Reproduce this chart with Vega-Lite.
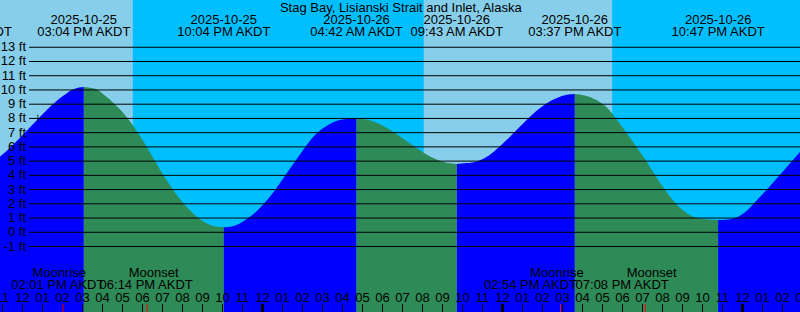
{
  "$schema": "https://vega.github.io/schema/vega-lite/v6.json",
  "width": 800,
  "height": 312,
  "padding": 0,
  "autosize": {"type": "none"},
  "background": "#87CEEB",
  "config": {"view": {"stroke": null}, "font": "Liberation Sans", "text": {"font": "Liberation Sans", "fontSize": 13, "color": "black"}},
  "datasets": {
    "sky": [
      {"time": "2025-10-25T06:00:00Z", "end": "2025-10-25T17:31:00Z", "period": "day"},
      {"time": "2025-10-25T17:31:00Z", "end": "2025-10-26T08:04:00Z", "period": "night"},
      {"time": "2025-10-26T08:04:00Z", "end": "2025-10-26T17:29:00Z", "period": "day"},
      {"time": "2025-10-26T17:29:00Z", "end": "2025-10-27T08:00:00Z", "period": "night"}
    ],
    "tide": [
      {"time": "2025-10-25T10:50:00Z", "ft": 5.28, "seg": "A", "dir": "rising"},
      {"time": "2025-10-25T11:25:00Z", "ft": 6.0, "seg": "A", "dir": "rising"},
      {"time": "2025-10-25T12:07:00Z", "ft": 7.0, "seg": "A", "dir": "rising"},
      {"time": "2025-10-25T12:48:00Z", "ft": 8.0, "seg": "A", "dir": "rising"},
      {"time": "2025-10-25T13:31:00Z", "ft": 9.0, "seg": "A", "dir": "rising"},
      {"time": "2025-10-25T14:00:00Z", "ft": 9.55, "seg": "A", "dir": "rising"},
      {"time": "2025-10-25T14:28:00Z", "ft": 10.0, "seg": "A", "dir": "rising"},
      {"time": "2025-10-25T14:46:00Z", "ft": 10.15, "seg": "A", "dir": "rising"},
      {"time": "2025-10-25T15:04:00Z", "ft": 10.2, "seg": "A", "dir": "rising"},
      {"time": "2025-10-25T15:04:00Z", "ft": 10.2, "seg": "B", "dir": "falling"},
      {"time": "2025-10-25T15:22:00Z", "ft": 10.15, "seg": "B", "dir": "falling"},
      {"time": "2025-10-25T15:46:00Z", "ft": 10.0, "seg": "B", "dir": "falling"},
      {"time": "2025-10-25T16:10:00Z", "ft": 9.55, "seg": "B", "dir": "falling"},
      {"time": "2025-10-25T16:37:00Z", "ft": 9.0, "seg": "B", "dir": "falling"},
      {"time": "2025-10-25T17:16:00Z", "ft": 8.0, "seg": "B", "dir": "falling"},
      {"time": "2025-10-25T17:46:00Z", "ft": 7.0, "seg": "B", "dir": "falling"},
      {"time": "2025-10-25T18:13:00Z", "ft": 6.0, "seg": "B", "dir": "falling"},
      {"time": "2025-10-25T18:37:00Z", "ft": 5.0, "seg": "B", "dir": "falling"},
      {"time": "2025-10-25T19:03:00Z", "ft": 4.0, "seg": "B", "dir": "falling"},
      {"time": "2025-10-25T19:31:00Z", "ft": 3.0, "seg": "B", "dir": "falling"},
      {"time": "2025-10-25T20:04:00Z", "ft": 2.0, "seg": "B", "dir": "falling"},
      {"time": "2025-10-25T20:48:00Z", "ft": 1.0, "seg": "B", "dir": "falling"},
      {"time": "2025-10-25T21:28:00Z", "ft": 0.47, "seg": "B", "dir": "falling"},
      {"time": "2025-10-25T22:04:00Z", "ft": 0.35, "seg": "B", "dir": "falling"},
      {"time": "2025-10-25T22:04:00Z", "ft": 0.35, "seg": "C", "dir": "rising"},
      {"time": "2025-10-25T22:34:00Z", "ft": 0.45, "seg": "C", "dir": "rising"},
      {"time": "2025-10-25T23:04:00Z", "ft": 0.8, "seg": "C", "dir": "rising"},
      {"time": "2025-10-25T23:34:00Z", "ft": 1.3, "seg": "C", "dir": "rising"},
      {"time": "2025-10-26T00:04:00Z", "ft": 2.0, "seg": "C", "dir": "rising"},
      {"time": "2025-10-26T00:34:00Z", "ft": 2.85, "seg": "C", "dir": "rising"},
      {"time": "2025-10-26T01:04:00Z", "ft": 3.85, "seg": "C", "dir": "rising"},
      {"time": "2025-10-26T01:34:00Z", "ft": 4.85, "seg": "C", "dir": "rising"},
      {"time": "2025-10-26T02:04:00Z", "ft": 5.85, "seg": "C", "dir": "rising"},
      {"time": "2025-10-26T02:34:00Z", "ft": 6.75, "seg": "C", "dir": "rising"},
      {"time": "2025-10-26T03:04:00Z", "ft": 7.35, "seg": "C", "dir": "rising"},
      {"time": "2025-10-26T03:34:00Z", "ft": 7.75, "seg": "C", "dir": "rising"},
      {"time": "2025-10-26T04:04:00Z", "ft": 7.95, "seg": "C", "dir": "rising"},
      {"time": "2025-10-26T04:42:00Z", "ft": 8.0, "seg": "C", "dir": "rising"},
      {"time": "2025-10-26T04:42:00Z", "ft": 8.0, "seg": "D", "dir": "falling"},
      {"time": "2025-10-26T05:12:00Z", "ft": 7.92, "seg": "D", "dir": "falling"},
      {"time": "2025-10-26T05:42:00Z", "ft": 7.7, "seg": "D", "dir": "falling"},
      {"time": "2025-10-26T06:12:00Z", "ft": 7.34, "seg": "D", "dir": "falling"},
      {"time": "2025-10-26T06:42:00Z", "ft": 6.9, "seg": "D", "dir": "falling"},
      {"time": "2025-10-26T07:12:00Z", "ft": 6.41, "seg": "D", "dir": "falling"},
      {"time": "2025-10-26T07:42:00Z", "ft": 5.92, "seg": "D", "dir": "falling"},
      {"time": "2025-10-26T08:12:00Z", "ft": 5.47, "seg": "D", "dir": "falling"},
      {"time": "2025-10-26T08:42:00Z", "ft": 5.11, "seg": "D", "dir": "falling"},
      {"time": "2025-10-26T09:12:00Z", "ft": 4.88, "seg": "D", "dir": "falling"},
      {"time": "2025-10-26T09:43:00Z", "ft": 4.8, "seg": "D", "dir": "falling"},
      {"time": "2025-10-26T09:43:00Z", "ft": 4.8, "seg": "E", "dir": "rising"},
      {"time": "2025-10-26T10:13:00Z", "ft": 4.86, "seg": "E", "dir": "rising"},
      {"time": "2025-10-26T10:43:00Z", "ft": 4.98, "seg": "E", "dir": "rising"},
      {"time": "2025-10-26T11:13:00Z", "ft": 5.3, "seg": "E", "dir": "rising"},
      {"time": "2025-10-26T11:43:00Z", "ft": 5.85, "seg": "E", "dir": "rising"},
      {"time": "2025-10-26T12:13:00Z", "ft": 6.5, "seg": "E", "dir": "rising"},
      {"time": "2025-10-26T12:43:00Z", "ft": 7.2, "seg": "E", "dir": "rising"},
      {"time": "2025-10-26T13:13:00Z", "ft": 7.9, "seg": "E", "dir": "rising"},
      {"time": "2025-10-26T13:43:00Z", "ft": 8.55, "seg": "E", "dir": "rising"},
      {"time": "2025-10-26T14:13:00Z", "ft": 9.07, "seg": "E", "dir": "rising"},
      {"time": "2025-10-26T14:43:00Z", "ft": 9.44, "seg": "E", "dir": "rising"},
      {"time": "2025-10-26T15:13:00Z", "ft": 9.66, "seg": "E", "dir": "rising"},
      {"time": "2025-10-26T15:37:00Z", "ft": 9.72, "seg": "E", "dir": "rising"},
      {"time": "2025-10-26T15:37:00Z", "ft": 9.72, "seg": "F", "dir": "falling"},
      {"time": "2025-10-26T16:07:00Z", "ft": 9.61, "seg": "F", "dir": "falling"},
      {"time": "2025-10-26T16:37:00Z", "ft": 9.35, "seg": "F", "dir": "falling"},
      {"time": "2025-10-26T17:07:00Z", "ft": 8.9, "seg": "F", "dir": "falling"},
      {"time": "2025-10-26T17:37:00Z", "ft": 8.1, "seg": "F", "dir": "falling"},
      {"time": "2025-10-26T18:07:00Z", "ft": 7.15, "seg": "F", "dir": "falling"},
      {"time": "2025-10-26T18:37:00Z", "ft": 6.15, "seg": "F", "dir": "falling"},
      {"time": "2025-10-26T19:07:00Z", "ft": 5.15, "seg": "F", "dir": "falling"},
      {"time": "2025-10-26T19:37:00Z", "ft": 4.05, "seg": "F", "dir": "falling"},
      {"time": "2025-10-26T20:07:00Z", "ft": 3.0, "seg": "F", "dir": "falling"},
      {"time": "2025-10-26T20:37:00Z", "ft": 2.1, "seg": "F", "dir": "falling"},
      {"time": "2025-10-26T21:07:00Z", "ft": 1.45, "seg": "F", "dir": "falling"},
      {"time": "2025-10-26T21:37:00Z", "ft": 1.05, "seg": "F", "dir": "falling"},
      {"time": "2025-10-26T22:07:00Z", "ft": 0.92, "seg": "F", "dir": "falling"},
      {"time": "2025-10-26T22:47:00Z", "ft": 0.86, "seg": "F", "dir": "falling"},
      {"time": "2025-10-26T22:47:00Z", "ft": 0.86, "seg": "G", "dir": "rising"},
      {"time": "2025-10-26T23:17:00Z", "ft": 0.9, "seg": "G", "dir": "rising"},
      {"time": "2025-10-26T23:47:00Z", "ft": 1.1, "seg": "G", "dir": "rising"},
      {"time": "2025-10-27T00:17:00Z", "ft": 1.6, "seg": "G", "dir": "rising"},
      {"time": "2025-10-27T00:47:00Z", "ft": 2.35, "seg": "G", "dir": "rising"},
      {"time": "2025-10-27T01:17:00Z", "ft": 3.1, "seg": "G", "dir": "rising"},
      {"time": "2025-10-27T01:47:00Z", "ft": 3.9, "seg": "G", "dir": "rising"},
      {"time": "2025-10-27T02:17:00Z", "ft": 4.7, "seg": "G", "dir": "rising"},
      {"time": "2025-10-27T02:47:00Z", "ft": 5.5, "seg": "G", "dir": "rising"},
      {"time": "2025-10-27T03:10:00Z", "ft": 6.1, "seg": "G", "dir": "rising"}
    ],
    "levels": [
      {"ft": -1, "label": "-1 ft"}, {"ft": 0, "label": "0 ft"}, {"ft": 1, "label": "1 ft"},
      {"ft": 2, "label": "2 ft"}, {"ft": 3, "label": "3 ft"}, {"ft": 4, "label": "4 ft"},
      {"ft": 5, "label": "5 ft"}, {"ft": 6, "label": "6 ft"}, {"ft": 7, "label": "7 ft"},
      {"ft": 8, "label": "8 ft"}, {"ft": 9, "label": "9 ft"}, {"ft": 10, "label": "10 ft"},
      {"ft": 11, "label": "11 ft"}, {"ft": 12, "label": "12 ft"}, {"ft": 13, "label": "13 ft"}
    ],
    "hours": [
      {"time": "2025-10-25T11:00:00Z", "h": "11"}, {"time": "2025-10-25T12:00:00Z", "h": "12"},
      {"time": "2025-10-25T13:00:00Z", "h": "01"}, {"time": "2025-10-25T14:00:00Z", "h": "02"},
      {"time": "2025-10-25T15:00:00Z", "h": "03"}, {"time": "2025-10-25T16:00:00Z", "h": "04"},
      {"time": "2025-10-25T17:00:00Z", "h": "05"}, {"time": "2025-10-25T18:00:00Z", "h": "06"},
      {"time": "2025-10-25T19:00:00Z", "h": "07"}, {"time": "2025-10-25T20:00:00Z", "h": "08"},
      {"time": "2025-10-25T21:00:00Z", "h": "09"}, {"time": "2025-10-25T22:00:00Z", "h": "10"},
      {"time": "2025-10-25T23:00:00Z", "h": "11"}, {"time": "2025-10-26T00:00:00Z", "h": "12"},
      {"time": "2025-10-26T01:00:00Z", "h": "01"}, {"time": "2025-10-26T02:00:00Z", "h": "02"},
      {"time": "2025-10-26T03:00:00Z", "h": "03"}, {"time": "2025-10-26T04:00:00Z", "h": "04"},
      {"time": "2025-10-26T05:00:00Z", "h": "05"}, {"time": "2025-10-26T06:00:00Z", "h": "06"},
      {"time": "2025-10-26T07:00:00Z", "h": "07"}, {"time": "2025-10-26T08:00:00Z", "h": "08"},
      {"time": "2025-10-26T09:00:00Z", "h": "09"}, {"time": "2025-10-26T10:00:00Z", "h": "10"},
      {"time": "2025-10-26T11:00:00Z", "h": "11"}, {"time": "2025-10-26T12:00:00Z", "h": "12"},
      {"time": "2025-10-26T13:00:00Z", "h": "01"}, {"time": "2025-10-26T14:00:00Z", "h": "02"},
      {"time": "2025-10-26T15:00:00Z", "h": "03"}, {"time": "2025-10-26T16:00:00Z", "h": "04"},
      {"time": "2025-10-26T17:00:00Z", "h": "05"}, {"time": "2025-10-26T18:00:00Z", "h": "06"},
      {"time": "2025-10-26T19:00:00Z", "h": "07"}, {"time": "2025-10-26T20:00:00Z", "h": "08"},
      {"time": "2025-10-26T21:00:00Z", "h": "09"}, {"time": "2025-10-26T22:00:00Z", "h": "10"},
      {"time": "2025-10-26T23:00:00Z", "h": "11"}, {"time": "2025-10-27T00:00:00Z", "h": "12"},
      {"time": "2025-10-27T01:00:00Z", "h": "01"}, {"time": "2025-10-27T02:00:00Z", "h": "02"},
      {"time": "2025-10-27T03:00:00Z", "h": "03"}
    ],
    "now": [{"time": "2025-10-25T12:46:00Z", "ft": 8.0}],
    "extremes": [
      {"time": "2025-10-25T09:11:00Z", "date": "2025-10-25", "label": "09:11 AM AKDT"},
      {"time": "2025-10-25T15:04:00Z", "date": "2025-10-25", "label": "03:04 PM AKDT"},
      {"time": "2025-10-25T22:04:00Z", "date": "2025-10-25", "label": "10:04 PM AKDT"},
      {"time": "2025-10-26T04:42:00Z", "date": "2025-10-26", "label": "04:42 AM AKDT"},
      {"time": "2025-10-26T09:43:00Z", "date": "2025-10-26", "label": "09:43 AM AKDT"},
      {"time": "2025-10-26T15:37:00Z", "date": "2025-10-26", "label": "03:37 PM AKDT"},
      {"time": "2025-10-26T22:47:00Z", "date": "2025-10-26", "label": "10:47 PM AKDT"}
    ],
    "moon": [
      {"id": 1, "event": "Moonrise", "time": "2025-10-25T14:01:00Z", "label": "02:01 PM AKDT"},
      {"id": 2, "event": "Moonset", "time": "2025-10-25T18:14:00Z", "label": "06:14 PM AKDT"},
      {"id": 3, "event": "Moonrise", "time": "2025-10-26T14:54:00Z", "label": "02:54 PM AKDT"},
      {"id": 4, "event": "Moonset", "time": "2025-10-26T19:08:00Z", "label": "07:08 PM AKDT"}
    ],
    "title": [{"time": "2025-10-26T06:54:54Z", "text": "Stag Bay, Lisianski Strait and Inlet, Alaska"}]
  },
  "resolve": {"scale": {"color": "independent"}},
  "layer": [
    {
      "data": {"name": "sky"},
      "mark": {"type": "rect", "clip": true},
      "encoding": {
        "x": {"field": "time", "type": "temporal", "scale": {"type": "utc", "nice": false, "domain": [1761389550000, 1761533550000]}, "axis": null},
        "x2": {"field": "end"},
        "color": {"field": "period", "type": "nominal", "scale": {"domain": ["day", "night"], "range": ["#87CEEB", "#00BFFF"]}, "legend": null}
      }
    },
    {
      "data": {"name": "tide"},
      "mark": {"type": "area", "interpolate": "monotone", "clip": true},
      "encoding": {
        "x": {"field": "time", "type": "temporal", "scale": {"type": "utc", "nice": false, "domain": [1761389550000, 1761533550000]}, "axis": null},
        "y": {"field": "ft", "type": "quantitative", "scale": {"domain": [-5.6, 16.32], "nice": false, "zero": false}, "axis": null},
        "y2": {"datum": -5.6},
        "color": {"field": "dir", "type": "nominal", "scale": {"domain": ["rising", "falling"], "range": ["#0000FF", "#2E8B57"]}, "legend": null},
        "detail": {"field": "seg"}
      }
    },
    {
      "data": {"name": "levels"},
      "mark": {"type": "rule", "color": "black", "strokeWidth": 1, "clip": true},
      "encoding": {
        "y": {"field": "ft", "type": "quantitative", "scale": {"domain": [-5.6, 16.32], "nice": false, "zero": false}, "axis": null},
        "x": {"datum": 1761394770000, "type": "temporal", "scale": {"type": "utc", "nice": false, "domain": [1761389550000, 1761533550000]}, "axis": null},
        "x2": {"datum": 1761534000000}
      }
    },
    {
      "data": {"name": "levels"},
      "mark": {"type": "text", "align": "right", "baseline": "middle"},
      "encoding": {
        "y": {"field": "ft", "type": "quantitative", "scale": {"domain": [-5.6, 16.32], "nice": false, "zero": false}, "axis": null},
        "x": {"datum": 1761394230000, "type": "temporal", "scale": {"type": "utc", "nice": false, "domain": [1761389550000, 1761533550000]}, "axis": null},
        "text": {"field": "label"}
      }
    },
    {
      "data": {"name": "now"},
      "mark": {"type": "tick", "orient": "vertical", "size": 8, "thickness": 1, "color": "black"},
      "encoding": {
        "x": {"field": "time", "type": "temporal", "scale": {"type": "utc", "nice": false, "domain": [1761389550000, 1761533550000]}, "axis": null},
        "y": {"field": "ft", "type": "quantitative", "scale": {"domain": [-5.6, 16.32], "nice": false, "zero": false}, "axis": null}
      }
    },
    {
      "data": {"name": "hours"},
      "mark": {"type": "rule", "color": "black"},
      "encoding": {
        "x": {"field": "time", "type": "temporal", "scale": {"type": "utc", "nice": false, "domain": [1761389550000, 1761533550000]}, "axis": null},
        "y": {"datum": -5.04, "scale": {"domain": [-5.6, 16.32], "nice": false, "zero": false}, "axis": null},
        "y2": {"datum": -5.6},
        "strokeWidth": {"condition": {"test": "utchours(datum.time) == 0 || (utchours(datum.time) == 12 && utcdate(datum.time) == 26)", "value": 3}, "value": 1}
      }
    },
    {
      "data": {"name": "hours"},
      "mark": {"type": "text", "align": "center", "baseline": "alphabetic"},
      "encoding": {
        "x": {"field": "time", "type": "temporal", "scale": {"type": "utc", "nice": false, "domain": [1761389550000, 1761533550000]}, "axis": null},
        "y": {"datum": -4.897, "scale": {"domain": [-5.6, 16.32], "nice": false, "zero": false}, "axis": null},
        "text": {"field": "h"}
      }
    },
    {
      "data": {"name": "moon"},
      "mark": {"type": "rule", "color": "#FF0000", "strokeWidth": 1},
      "encoding": {
        "x": {"field": "time", "type": "temporal", "scale": {"type": "utc", "nice": false, "domain": [1761389550000, 1761533550000]}, "axis": null},
        "y": {"datum": -5.04, "scale": {"domain": [-5.6, 16.32], "nice": false, "zero": false}, "axis": null},
        "y2": {"datum": -5.6}
      }
    },
    {
      "data": {"name": "title"},
      "mark": {"type": "text", "align": "center", "baseline": "alphabetic"},
      "encoding": {
        "x": {"field": "time", "type": "temporal", "scale": {"type": "utc", "nice": false, "domain": [1761389550000, 1761533550000]}, "axis": null},
        "y": {"datum": 15.5, "scale": {"domain": [-5.6, 16.32], "nice": false, "zero": false}, "axis": null},
        "text": {"field": "text"}
      }
    },
    {
      "data": {"name": "extremes"},
      "mark": {"type": "text", "align": "center", "baseline": "alphabetic"},
      "encoding": {
        "x": {"field": "time", "type": "temporal", "scale": {"type": "utc", "nice": false, "domain": [1761389550000, 1761533550000]}, "axis": null},
        "y": {"datum": 14.634, "scale": {"domain": [-5.6, 16.32], "nice": false, "zero": false}, "axis": null},
        "text": {"field": "date"}
      }
    },
    {
      "data": {"name": "extremes"},
      "mark": {"type": "text", "align": "center", "baseline": "alphabetic"},
      "encoding": {
        "x": {"field": "time", "type": "temporal", "scale": {"type": "utc", "nice": false, "domain": [1761389550000, 1761533550000]}, "axis": null},
        "y": {"datum": 13.791, "scale": {"domain": [-5.6, 16.32], "nice": false, "zero": false}, "axis": null},
        "text": {"field": "label"}
      }
    },
    {
      "data": {"name": "moon"},
      "transform": [{"filter": "datum.event == 'Moonrise'"}],
      "mark": {"type": "text", "align": "center", "baseline": "alphabetic", "dx": -3.5},
      "encoding": {
        "x": {"field": "time", "type": "temporal", "scale": {"type": "utc", "nice": false, "domain": [1761389550000, 1761533550000]}, "axis": null},
        "y": {"datum": -3.14, "scale": {"domain": [-5.6, 16.32], "nice": false, "zero": false}, "axis": null},
        "text": {"field": "event"}
      }
    },
    {
      "data": {"name": "moon"},
      "transform": [{"filter": "datum.event == 'Moonset'"}],
      "mark": {"type": "text", "align": "center", "baseline": "alphabetic", "dx": 6.5},
      "encoding": {
        "x": {"field": "time", "type": "temporal", "scale": {"type": "utc", "nice": false, "domain": [1761389550000, 1761533550000]}, "axis": null},
        "y": {"datum": -3.14, "scale": {"domain": [-5.6, 16.32], "nice": false, "zero": false}, "axis": null},
        "text": {"field": "event"}
      }
    },
    {
      "data": {"name": "moon"},
      "transform": [{"filter": "datum.id == 1"}],
      "mark": {"type": "text", "align": "center", "baseline": "alphabetic", "dx": -5},
      "encoding": {
        "x": {"field": "time", "type": "temporal", "scale": {"type": "utc", "nice": false, "domain": [1761389550000, 1761533550000]}, "axis": null},
        "y": {"datum": -3.984, "scale": {"domain": [-5.6, 16.32], "nice": false, "zero": false}, "axis": null},
        "text": {"field": "label"}
      }
    },
    {
      "data": {"name": "moon"},
      "transform": [{"filter": "datum.id == 2"}],
      "mark": {"type": "text", "align": "center", "baseline": "alphabetic", "dx": -1},
      "encoding": {
        "x": {"field": "time", "type": "temporal", "scale": {"type": "utc", "nice": false, "domain": [1761389550000, 1761533550000]}, "axis": null},
        "y": {"datum": -3.984, "scale": {"domain": [-5.6, 16.32], "nice": false, "zero": false}, "axis": null},
        "text": {"field": "label"}
      }
    },
    {
      "data": {"name": "moon"},
      "transform": [{"filter": "datum.id == 3"}],
      "mark": {"type": "text", "align": "center", "baseline": "alphabetic", "dx": -30},
      "encoding": {
        "x": {"field": "time", "type": "temporal", "scale": {"type": "utc", "nice": false, "domain": [1761389550000, 1761533550000]}, "axis": null},
        "y": {"datum": -3.984, "scale": {"domain": [-5.6, 16.32], "nice": false, "zero": false}, "axis": null},
        "text": {"field": "label"}
      }
    },
    {
      "data": {"name": "moon"},
      "transform": [{"filter": "datum.id == 4"}],
      "mark": {"type": "text", "align": "center", "baseline": "alphabetic", "dx": -23},
      "encoding": {
        "x": {"field": "time", "type": "temporal", "scale": {"type": "utc", "nice": false, "domain": [1761389550000, 1761533550000]}, "axis": null},
        "y": {"datum": -3.984, "scale": {"domain": [-5.6, 16.32], "nice": false, "zero": false}, "axis": null},
        "text": {"field": "label"}
      }
    }
  ]
}
